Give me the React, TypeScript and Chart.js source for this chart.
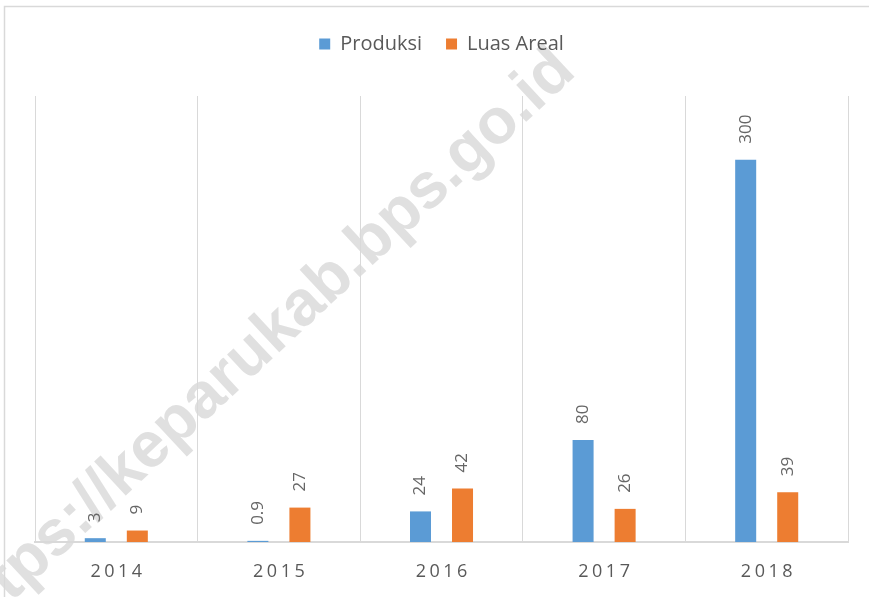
import React, { useEffect, useRef } from "react";
import { Chart, registerables } from "chart.js";

Chart.register(...registerables);

const categories = ["2014", "2015", "2016", "2017", "2018"];
const produksi = [3, 0.9, 24, 80, 300];
const luasAreal = [9, 27, 42, 26, 39];
const seriesNames = ["Produksi", "Luas Areal"];
const watermarkText = "https://keparukab.bps.go.id";

const FONT = "'Open Sans', 'Noto Sans', sans-serif";
const GRAY = "#595959";
const GRID = "#d9d9d9";

export default function App() {
  const ref = useRef<HTMLCanvasElement | null>(null);

  useEffect(() => {
    if (!ref.current) return;

    const background = {
      id: "background",
      beforeDraw(chart: any) {
        const ctx = chart.ctx;
        const w = chart.width;
        const h = chart.height;
        ctx.save();
        ctx.fillStyle = "#ffffff";
        ctx.fillRect(0, 0, w, h);
        // watermark
        ctx.translate(260, 346);
        ctx.rotate((-43 * Math.PI) / 180);
        ctx.font = `bold 64px 'Liberation Sans', Arial, sans-serif`;
        ctx.fillStyle = "#e0e0e0";
        ctx.textAlign = "center";
        ctx.textBaseline = "middle";
        ctx.fillText(watermarkText, 0, 0);
        ctx.restore();
        // frame
        ctx.save();
        ctx.strokeStyle = GRID;
        ctx.lineWidth = 1.5;
        ctx.beginPath();
        ctx.moveTo(4.5, h);
        ctx.lineTo(4.5, 6.5);
        ctx.lineTo(w, 6.5);
        ctx.stroke();
        ctx.restore();
      },
    };

    const legendGap = {
      id: "legendGap",
      beforeLayout(chart: any) {
        const lg: any = chart.legend;
        if (lg && !lg._patched) {
          const f = lg.fit;
          lg.fit = function () {
            f.call(this);
            this.height += 32;
          };
          lg._patched = true;
        }
      },
    };

    const labels = {
      id: "valueLabels",
      afterDraw(chart: any) {
        const ctx = chart.ctx;
        ctx.save();
        // data labels
        ctx.font = `17px ${FONT}`;
        ctx.fillStyle = "#666666";
        ctx.textAlign = "left";
        ctx.textBaseline = "middle";
        chart.data.datasets.forEach((ds: any, di: number) => {
          const meta = chart.getDatasetMeta(di);
          meta.data.forEach((bar: any, i: number) => {
            const v = ds.data[i];
            ctx.save();
            ctx.translate(bar.x, bar.y - 16);
            ctx.rotate(-Math.PI / 2);
            ctx.fillText(String(v), 0, 0);
            ctx.restore();
          });
        });
        // x labels with letter spacing
        const xs = chart.scales.x;
        ctx.font = `18px ${FONT}`;
        ctx.fillStyle = GRAY;
        (ctx as any).letterSpacing = "3.5px";
        ctx.textAlign = "left";
        categories.forEach((c, i) => {
          const x = xs.getPixelForTick(i);
          const w = ctx.measureText(c).width - 3.5;
          ctx.fillText(c, x - w / 2, 572);
        });
        (ctx as any).letterSpacing = "0px";
        ctx.restore();
      },
    };

    const chart = new Chart(ref.current, {
      type: "bar",
      data: {
        labels: categories,
        datasets: [
          {
            label: seriesNames[0],
            data: produksi,
            backgroundColor: "#5B9BD5",
            categoryPercentage: 0.517,
            barPercentage: 0.5,
          },
          {
            label: seriesNames[1],
            data: luasAreal,
            backgroundColor: "#ED7D31",
            categoryPercentage: 0.517,
            barPercentage: 0.5,
          },
        ],
      },
      options: {
        animation: false,
        responsive: true,
        maintainAspectRatio: false,
        layout: { padding: { top: 10, left: 35, right: 21, bottom: 55 } },
        plugins: {
          legend: {
            position: "top",
            labels: {
              boxWidth: 11,
              boxHeight: 11,
              padding: 24,
              color: GRAY,
              font: { family: FONT, size: 20 },
            },
          },
          tooltip: { enabled: false },
        },
        scales: {
          x: {
            grid: { color: GRID, lineWidth: 1, offset: true, drawTicks: false },
            border: { color: GRID, width: 2 },
            ticks: { display: false },
          },
          y: {
            display: false,
            min: 0,
            max: 350,
          },
        },
      },
      plugins: [background, legendGap, labels],
    });

    return () => chart.destroy();
  }, []);

  return (
    <div
      style={{
        position: "fixed",
        left: 0,
        top: 0,
        width: 869,
        height: 597,
        background: "#fff",
      }}
    >
      <canvas ref={ref} />
    </div>
  );
}
